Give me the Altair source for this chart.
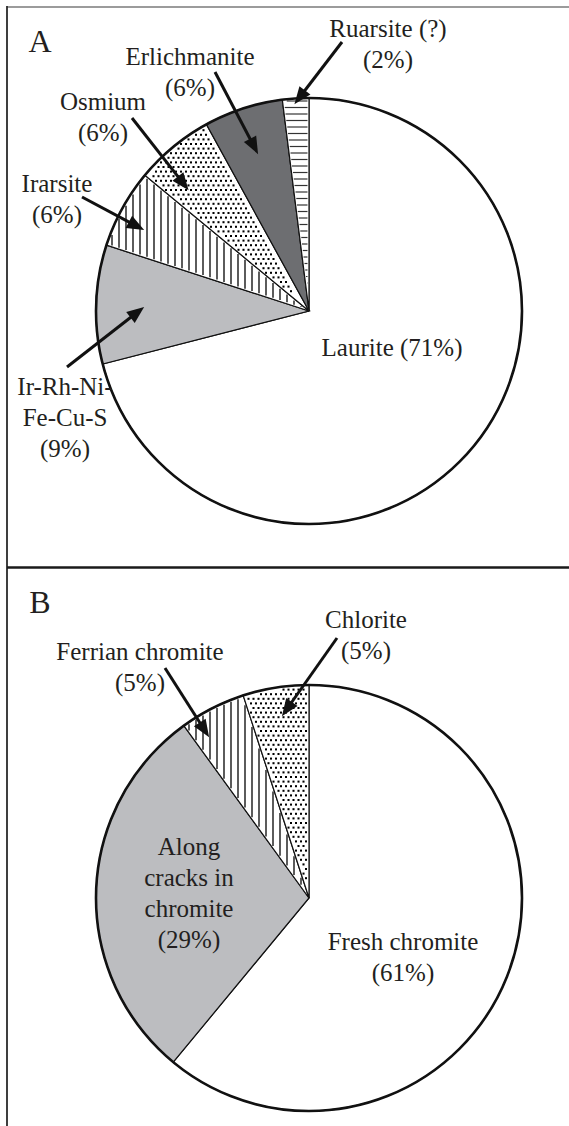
import math
import numpy as np
import pandas as pd
import altair as alt

# ---------------- data ----------------
a_names = ["Laurite", "Ir-Rh-Ni-Fe-Cu-S", "Irarsite", "Osmium", "Erlichmanite", "Ruarsite (?)"]
a_values = [71, 9, 6, 6, 6, 2]

b_names = ["Fresh chromite", "Along cracks in chromite", "Ferrian chromite", "Chlorite"]
b_values = [61, 29, 5, 5]

# label line splits (name part), percentage appended from values
a_label_lines = [["Laurite ({}%)"], ["Ir-Rh-Ni-", "Fe-Cu-S", "({}%)"], ["Irarsite", "({}%)"],
                 ["Osmium", "({}%)"], ["Erlichmanite", "({}%)"], ["Ruarsite (?)", "({}%)"]]
b_label_lines = [["Fresh chromite", "({}%)"], ["Along", "cracks in", "chromite", "({}%)"],
                 ["Ferrian chromite", "({}%)"], ["Chlorite", "({}%)"]]

# ---------------- styles / layout ----------------
W, H = 569, 1126
CX = 309
A_CY = 311
B_CY = 898
R = 213

a_fills = ["#ffffff", "#bcbdc0", "#ffffff", "#ffffff", "#6d6e71", "#ffffff"]
a_patterns = [None, None, "vlines", "dots", None, "hlines"]
b_fills = ["#ffffff", "#bcbdc0", "#ffffff", "#ffffff"]
b_patterns = [None, None, "vlines", "dots"]

# label anchor (center x, first baseline y)
a_label_pos = [(392, 356), (65, 395), (57, 192), (103, 110), (190, 65), (388, 37)]
b_label_pos = [(403, 950), (189, 855), (140, 660), (366, 628)]
LINE_H = 31
FONT = "Liberation Serif, Times New Roman, serif"

# arrows (tail -> tip)
a_arrows = [None, ((67, 367), (144, 307)), ((82, 197), (144, 230)),
            ((132, 118), (188.5, 190)), ((215, 72), (258, 154)), ((342, 42), (294.5, 104))]
b_arrows = [None, None, ((165, 668), (209, 737)), ((337, 638), (282, 716))]

TWO_PI = 2 * math.pi


def wedge_angles(values, i):
    tot = float(sum(values))
    a1 = sum(values[:i]) / tot * TWO_PI
    return a1, a1 + values[i] / tot * TWO_PI


def inside(px, py, cy, a1, a2, margin=1.3):
    dx = px - CX
    dy = py - cy
    r = np.hypot(dx, dy)
    ang = np.mod(np.arctan2(dx, -dy), TWO_PI)
    ok = (r < R - margin - 0.5) & (ang > a1) & (ang < a2)
    ok &= r * np.sin(np.clip(ang - a1, 0, math.pi / 2)) > margin
    ok &= r * np.sin(np.clip(a2 - ang, 0, math.pi / 2)) > margin
    return ok


segs = []   # x, x2, y, y2, color, width
dots = []   # x, y


def add_patterns(values, patterns, cy):
    for i, p in enumerate(patterns):
        if p is None:
            continue
        a1, a2 = wedge_angles(values, i)
        if p == "vlines":
            for x in np.arange(CX - R + 2, CX + R, 7.0):
                ys = np.arange(cy - R, cy + R, 0.25)
                m = inside(np.full_like(ys, x), ys, cy, a1, a2)
                if m.any():
                    segs.append((x, x, ys[m].min(), ys[m].max(), "#333333", 1.6))
        elif p == "hlines":
            for y in np.arange(cy - R + 3, cy + R, 6.5):
                xs = np.arange(CX - R, CX + R, 0.25)
                m = inside(xs, np.full_like(xs, y), cy, a1, a2)
                if m.any():
                    segs.append((xs[m].min(), xs[m].max(), y, y, "#333333", 1.2))
        elif p == "dots":
            for j, y in enumerate(np.arange(cy - R, cy + R, 4.6)):
                off = 2.5 if j % 2 else 0.0
                xs = np.arange(CX - R + off, CX + R, 5.0)
                m = inside(xs, np.full_like(xs, y), cy, a1, a2, margin=2.0)
                for x in xs[m]:
                    dots.append((x, y))


add_patterns(a_values, a_patterns, A_CY)
add_patterns(b_values, b_patterns, B_CY)

# frame lines
segs.append((7, W, 7, 7, "#7a7a7a", 1.5))
segs.append((7, 7, 6, H, "#2a2a2a", 1.8))
segs.append((7, W, 567.5, 567.5, "#1a1a1a", 2.6))

heads = []  # x, y, angle


def add_arrows(arrows):
    for ar in arrows:
        if ar is None:
            continue
        (tx, ty), (hx, hy) = ar
        dx, dy = hx - tx, hy - ty
        L = math.hypot(dx, dy)
        ux, uy = dx / L, dy / L
        segs.append((tx, hx - 11 * ux, ty, hy - 11 * uy, "#111111", 3.0))
        ang = math.degrees(math.atan2(dx, -dy)) % 360
        heads.append((hx - 8.5 * ux, hy - 8.5 * uy, ang))


add_arrows(a_arrows)
add_arrows(b_arrows)

texts = []  # x, y, text, size


def add_labels(values, lines_list, pos_list):
    for v, lines, (x, y) in zip(values, lines_list, pos_list):
        for k, ln in enumerate(lines):
            texts.append((x, y + k * LINE_H, ln.format(v) if "{}" in ln else ln, 25))


add_labels(a_values, a_label_lines, a_label_pos)
add_labels(b_values, b_label_lines, b_label_pos)
texts.append((40, 52, "A", 32))
texts.append((40, 613, "B", 32))

seg_df = pd.DataFrame(segs, columns=["x", "x2", "y", "y2", "color", "w"])
dot_df = pd.DataFrame(dots, columns=["x", "y"])
head_df = pd.DataFrame(heads, columns=["x", "y", "angle"])
text_df = pd.DataFrame(texts, columns=["x", "y", "text", "size"])

a_df = pd.DataFrame({"name": a_names, "value": a_values, "idx": range(len(a_names)), "fill": a_fills})
b_df = pd.DataFrame({"name": b_names, "value": b_values, "idx": range(len(b_names)), "fill": b_fills})

xs_ = alt.Scale(domain=[0, W], nice=False, zero=False)
ys_ = alt.Scale(domain=[0, H], nice=False, zero=False, reverse=True)


def pie(df, cy):
    return alt.Chart(df).mark_arc(radius=R, stroke="#111111", strokeWidth=1.2).encode(
        theta=alt.Theta("value:Q", stack=True),
        order=alt.Order("idx:Q", sort="ascending"),
        fill=alt.Fill("fill:N", scale=None),
        x=alt.value(CX),
        y=alt.value(cy),
    )


def rim(cy):
    return alt.Chart(pd.DataFrame({"k": [0]})).mark_arc(
        radius=R, theta=0, theta2=TWO_PI, fillOpacity=0, stroke="#111111", strokeWidth=2.6
    ).encode(x=alt.value(CX), y=alt.value(cy))


seg_layer = alt.Chart(seg_df).mark_rule(strokeCap="butt").encode(
    x=alt.X("x:Q", scale=xs_, axis=None),
    x2="x2:Q",
    y=alt.Y("y:Q", scale=ys_, axis=None),
    y2="y2:Q",
    color=alt.Color("color:N", scale=None),
    strokeWidth=alt.StrokeWidth("w:Q", scale=None),
)

dot_layer = alt.Chart(dot_df).mark_square(size=4.2, color="#000000", opacity=1).encode(
    x=alt.X("x:Q", scale=xs_, axis=None),
    y=alt.Y("y:Q", scale=ys_, axis=None),
)

head_layer = alt.Chart(head_df).mark_point(
    shape="M0,-1L0.8,1L-0.8,1Z", size=300, filled=True, color="#111111", opacity=1
).encode(
    x=alt.X("x:Q", scale=xs_, axis=None),
    y=alt.Y("y:Q", scale=ys_, axis=None),
    angle=alt.Angle("angle:Q", scale=None),
)

text_layer = alt.Chart(text_df).mark_text(
    font=FONT, align="center", baseline="alphabetic", color="#231f20"
).encode(
    x=alt.X("x:Q", scale=xs_, axis=None),
    y=alt.Y("y:Q", scale=ys_, axis=None),
    text="text:N",
    size=alt.Size("size:Q", scale=None),
)

chart = alt.layer(
    pie(a_df, A_CY),
    pie(b_df, B_CY),
    dot_layer,
    seg_layer,
    rim(A_CY),
    rim(B_CY),
    head_layer,
    text_layer,
).resolve_scale(theta="independent").properties(
    width=W, height=H, padding=0, autosize=alt.AutoSizeParams(type="none"), background="white"
).configure_view(stroke=None)

chart.save("out.html", embed_options={"renderer": "svg", "actions": False})
